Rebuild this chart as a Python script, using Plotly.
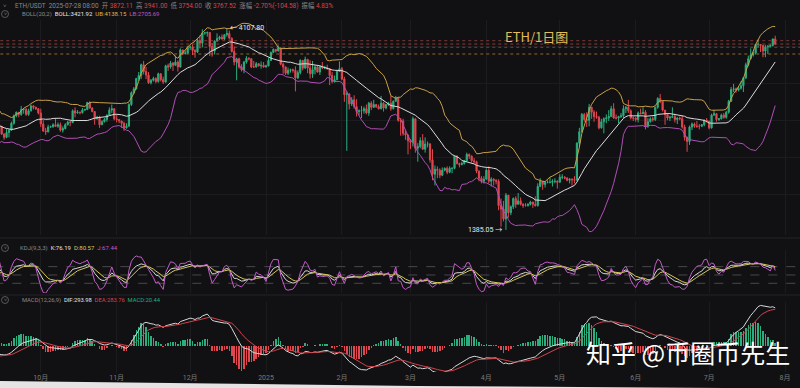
import numpy as np
import pandas as pd
import plotly.graph_objects as go

# ---------------- data (daily candles, close / high / low) ----------------
first_open = 3230.0  # close of 2024-07-31, open of the first candle

aug24 = [(2980,3250,2900),(2900,3080,2880),(2690,2970,2630),(2680,2790,2600),(2420,2700,2110),
         (2460,2560,2420),(2340,2550,2310),(2680,2720,2330),(2600,2710,2560),(2610,2650,2580),
         (2560,2720,2550),(2720,2740,2520),(2700,2740,2610),(2660,2780,2640),(2570,2680,2520),
         (2590,2640,2550),(2610,2630,2580),(2610,2690,2600),(2640,2650,2560),(2570,2690,2560),
         (2630,2640,2540),(2620,2660,2590),(2760,2800,2610),(2770,2820,2740),(2750,2790,2730),
         (2680,2760,2670),(2460,2700,2440),(2530,2560,2420),(2530,2600,2510),(2530,2540,2430),
         (2510,2530,2500)]
sep24 = [(2430,2520,2400),(2540,2560,2430),(2420,2550,2410),(2450,2490,2310),(2370,2460,2350),
         (2230,2410,2150),(2270,2310,2230),(2300,2320,2250),(2360,2380,2280),(2390,2400,2330),
         (2340,2390,2280),(2360,2380,2320),(2440,2460,2340),(2420,2440,2400),(2320,2420,2310),
         (2280,2330,2250),(2340,2390,2270),(2370,2380,2280),(2460,2480,2360),(2560,2580,2440),
         (2610,2620,2540),(2580,2610,2540),(2650,2700,2560),(2650,2670,2590),(2580,2670,2560),
         (2630,2660,2560),(2700,2720,2620),(2680,2710,2650),(2660,2690,2640),(2600,2670,2580)]
oct24 = [(2450,2660,2410),(2360,2500,2350),(2350,2400,2310),(2410,2440,2340),(2415,2430,2400),
         (2440,2460,2400),(2420,2520,2410),(2440,2470,2400),(2370,2470,2350),(2390,2420,2340),
         (2440,2460,2380),(2475,2490,2430),(2470,2490,2420),(2630,2650,2460),(2600,2680,2540),
         (2610,2640,2590),(2605,2620,2580),(2640,2670,2590),(2650,2660,2630),(2750,2760,2640),
         (2670,2770,2660),(2620,2680,2610),(2520,2620,2440),(2540,2560,2510),(2440,2560,2400),
         (2480,2500,2440),(2510,2530,2470),(2570,2580,2480),(2640,2680,2560),(2660,2720,2600),
         (2520,2670,2500)]
nov24 = [(2510,2580,2470),(2490,2510,2460),(2460,2490,2400),(2400,2480,2360),(2420,2460,2390),
         (2720,2740,2420),(2900,2920,2700),(2960,2990,2880),(3130,3140,2950),(3180,3240,3090),
         (3370,3390,3120),(3250,3440,3200),(3190,3330,3120),(3060,3240,3040),(3100,3120,3030),
         (3130,3160,3080),(3080,3150,3050),(3210,3230,3060),(3110,3220,3080),(3070,3160,3040),
         (3350,3370,3060),(3330,3390,3260),(3400,3440,3300),(3360,3420,3260),(3420,3540,3360),
         (3330,3450,3250),(3650,3680,3320),(3580,3650,3550),(3590,3640,3560),(3700,3730,3580)]
dec24 = [(3710,3740,3650),(3640,3760,3550),(3610,3670,3500),(3840,3890,3590),(3790,3950,3680),
         (4000,4080,3700),(4000,4020,3960),(4010,4030,3920),(3720,4010,3530),(3630,3790,3520),
         (3830,3840,3560),(3880,3990,3810),(3910,3940,3850),(3870,3970,3860),(3960,3970,3850),
         (3990,4107.8,3920),(3890,4050,3860),(3620,3900,3600),(3420,3720,3360),(3480,3500,3100),
         (3330,3500,3300),(3280,3380,3250),(3420,3440,3220),(3490,3530,3390),(3480,3510,3450),
         (3330,3490,3310),(3330,3440,3320),(3390,3420,3320),(3350,3400,3340),(3360,3430,3300),
         (3330,3420,3320)]
jan25 = [(3350,3370,3320),(3450,3500,3340),(3600,3620,3440),(3660,3680,3590),(3630,3670,3600),
         (3690,3740,3620),(3380,3700,3360),(3330,3410,3210),(3220,3340,3190),(3270,3320,3190),
         (3280,3300,3230),(3270,3300,3230),(3140,3340,2920),(3230,3270,3120),(3450,3470,3200),
         (3310,3450,3270),(3470,3520,3300),(3310,3450,3220),(3210,3450,3130),(3280,3440,3140),
         (3330,3360,3200),(3240,3350,3230),(3340,3350,3190),(3310,3420,3290),(3320,3350,3290),
         (3300,3370,3280),(3180,3260,3020),(3080,3240,3050),(3110,3180,3060),(3250,3280,3100),
         (3300,3430,3260)]
feb25 = [(3120,3330,3100),(2870,3160,2760),(2880,2920,2120),(2730,2890,2650),(2790,2830,2700),
         (2690,2860,2660),(2620,2800,2550),(2630,2650,2570),(2630,2700,2530),(2660,2690,2590),
         (2600,2720,2580),(2740,2760,2560),(2680,2770,2640),(2720,2790,2670),(2690,2730,2670),
         (2660,2720,2650),(2740,2850,2650),(2670,2760,2620),(2720,2730,2650),(2740,2760,2700),
         (2660,2850,2630),(2770,2780,2650),(2820,2850,2760),(2500,2830,2480),(2490,2530,2300),
         (2330,2520,2300),(2310,2370,2250),(2240,2300,2080)]
mar25 = [(2220,2260,2140),(2520,2550,2170),(2150,2520,2100),(2170,2210,2000),(2240,2280,2150),
         (2140,2320,2130),(2200,2280,2100),(2200,2230,2160),(2020,2210,1990),(1870,2140,1810),
         (1920,1960,1760),(1910,1950,1830),(1860,1930,1830),(1910,1940,1850),(1930,1940,1900),
         (1890,1950,1870),(1930,1950,1880),(1930,1940,1880),(2060,2070,1920),(1980,2070,1970),
         (1970,1990,1940),(1980,2000,1960),(2010,2020,1970),(2080,2100,2000),(2060,2090,2030),
         (2010,2070,1990),(2000,2040,1980),(1900,2010,1880),(1830,1910,1800),(1800,1850,1780),
         (1820,1850,1780)]
apr25 = [(1910,1930,1820),(1800,1950,1780),(1820,1840,1750),(1810,1830,1760),(1800,1820,1770),
         (1580,1820,1540),(1550,1640,1410),(1470,1620,1450),(1670,1690,1385.05),(1520,1670,1480),
         (1570,1580,1500),(1640,1650,1550),(1590,1660,1560),(1620,1690,1590),(1590,1650,1580),
         (1580,1600,1560),(1580,1600,1570),(1590,1600,1570),(1610,1620,1580),(1590,1610,1560),
         (1580,1660,1570),(1750,1780,1570),(1800,1830,1750),(1770,1800,1720),(1790,1800,1740),
         (1790,1810,1780),(1790,1840,1780),(1800,1820,1750),(1800,1830,1780),(1790,1810,1730)]
may25 = [(1840,1870,1790),(1840,1870,1820),(1830,1850,1820),(1810,1840,1800),(1820,1830,1780),
         (1815,1830,1760),(1810,1850,1780),(2210,2220,1810),(2350,2400,2160),(2580,2600,2340),
         (2510,2600,2480),(2500,2610,2410),(2680,2730,2420),(2610,2680,2520),(2550,2640,2480),
         (2540,2620,2520),(2400,2560,2380),(2480,2520,2390),(2520,2540,2330),(2530,2580,2460),
         (2550,2640,2490),(2660,2700,2550),(2530,2740,2520),(2530,2580,2510),(2550,2560,2460),
         (2560,2600,2530),(2660,2710,2530),(2680,2700,2600),(2630,2790,2600),(2530,2650,2510),
         (2530,2550,2490)]
jun25 = [(2510,2540,2480),(2600,2620,2470),(2590,2660,2580),(2610,2680,2590),(2420,2640,2380),
         (2480,2530,2400),(2520,2540,2470),(2510,2550,2480),(2680,2690,2490),(2810,2830,2660),
         (2770,2880,2740),(2640,2780,2620),(2580,2640,2440),(2530,2600,2500),(2540,2560,2490),
         (2550,2680,2530),(2510,2590,2470),(2530,2540,2450),(2520,2550,2500),(2410,2560,2390),
         (2280,2440,2240),(2230,2290,2110),(2410,2430,2190),(2450,2470,2370),(2420,2470,2400),
         (2420,2490,2400),(2420,2450,2380),(2440,2450,2410),(2500,2510,2420),(2490,2530,2470)]
jul25 = [(2400,2490,2380),(2570,2590,2390),(2590,2640,2560),(2510,2600,2480),(2520,2530,2490),
         (2570,2590,2510),(2540,2600,2520),(2610,2630,2520),(2770,2790,2590),(2950,2990,2760),
         (2960,3040,2910),(2940,2980,2900),(2970,3000,2920),(3010,3080,2950),(3140,3150,2910),
         (3370,3410,3120),(3480,3540,3340),(3550,3680,3480),(3590,3620,3520),(3760,3770,3560),
         (3760,3860,3700),(3740,3760,3610),(3630,3740,3510),(3710,3750,3510),(3720,3750,3570),
         (3740,3760,3710),(3872.11,3880,3720),(3767.52,3941,3754)]

months = [("2024-08-01", aug24), ("2024-09-01", sep24), ("2024-10-01", oct24), ("2024-11-01", nov24),
          ("2024-12-01", dec24), ("2025-01-01", jan25), ("2025-02-01", feb25), ("2025-03-01", mar25),
          ("2025-04-01", apr25), ("2025-05-01", may25), ("2025-06-01", jun25), ("2025-07-01", jul25)]

tick_dates = ["2024-10-01", "2024-11-01", "2024-12-01", "2025-01-01", "2025-02-01", "2025-03-01",
              "2025-04-01", "2025-05-01", "2025-06-01", "2025-07-01", "2025-08-01"]
tick_labels = ["10月", "11月", "12月", "2025", "2月", "3月", "4月", "5月", "6月", "7月", "8月"]

alert_levels = [3836, 3767.52, 3702, 3571]
alert_colors = ["#b5473f", "#c0504a", "#a8563e", "#c88a3c"]
price_grid = [1680, 2050, 2500, 3050, 3720]

high_mark = ("2024-12-16", 4107.80)
low_mark = ("2025-04-09", 1385.05)

# ---------------- build frame ----------------
rows = []
for start, days in months:
    d0 = pd.Timestamp(start)
    for i, (c, h, l) in enumerate(days):
        rows.append((d0 + pd.Timedelta(days=i), c, h, l))
df = pd.DataFrame(rows, columns=["date", "close", "high", "low"])
df["open"] = [first_open] + df["close"].tolist()[:-1]
df["high"] = df[["high", "open", "close"]].max(axis=1)
df["low"] = df[["low", "open", "close"]].min(axis=1)

c = df["close"]
mid = c.rolling(20).mean()
sd = c.rolling(20).std(ddof=0)
ub = mid + 2 * sd
lb = mid - 2 * sd

ema12 = c.ewm(span=12, adjust=False).mean()
ema26 = c.ewm(span=26, adjust=False).mean()
dif = ema12 - ema26
dea = dif.ewm(span=9, adjust=False).mean()
hist = 2 * (dif - dea)

low9 = df["low"].rolling(9, min_periods=1).min()
high9 = df["high"].rolling(9, min_periods=1).max()
rsv = (c - low9) / (high9 - low9) * 100
K, D = [], []
k = d = 50.0
for r in rsv:
    k = 2 / 3 * k + r / 3
    d = 2 / 3 * d + k / 3
    K.append(k)
    D.append(d)
K = np.array(K)
D = np.array(D)
J = 3 * K - 2 * D

view = df["date"] >= pd.Timestamp("2024-09-10")
dv = df[view]

# ---------------- styling ----------------
BG = "#111114"
GREEN = "#2bae7e"
RED = "#e0474f"
GRAY = "#8a8a8a"
GRID = "#1b1b20"
FONT = "Roboto, 'Noto Sans CJK SC', sans-serif"
H = 374.0  # plot-area height in px (388 - bottom margin)

def py(y):
    return 1 - y / H

fig = go.Figure()

fig.add_trace(go.Candlestick(
    x=dv["date"], open=dv["open"], high=dv["high"], low=dv["low"], close=dv["close"],
    increasing=dict(line=dict(color=GREEN, width=1), fillcolor=GREEN),
    decreasing=dict(line=dict(color=RED, width=1), fillcolor=RED),
    whiskerwidth=0, xaxis="x", yaxis="y", showlegend=False, hoverinfo="skip"))

x_end = pd.Timestamp("2025-08-08")
x_start = pd.Timestamp("2024-09-12")
for lvl, col in zip(alert_levels, alert_colors):
    fig.add_trace(go.Scatter(x=[x_start, x_end], y=[lvl, lvl], mode="lines", opacity=0.7,
                             line=dict(color=col, width=1, dash="dot"),
                             xaxis="x", yaxis="y", showlegend=False, hoverinfo="skip"))

for series, col in [(ub[view], "#c9a045"), (mid[view], "#dcdcdc"), (lb[view], "#b04fb5")]:
    fig.add_trace(go.Scatter(x=dv["date"], y=series, mode="lines", line=dict(color=col, width=1),
                             xaxis="x", yaxis="y", showlegend=False, hoverinfo="skip"))

# KDJ
for lvl in [20, 50, 80]:
    fig.add_trace(go.Scatter(x=[x_start, x_end], y=[lvl, lvl], mode="lines",
                             line=dict(color="#55555c", width=0.8, dash="dash"),
                             xaxis="x2", yaxis="y2", showlegend=False, hoverinfo="skip"))
for series, col in [(K[view.values], "#d8d8d8"), (D[view.values], "#d6c858"), (J[view.values], "#c45bc8")]:
    fig.add_trace(go.Scatter(x=dv["date"], y=series, mode="lines", line=dict(color=col, width=1),
                             xaxis="x2", yaxis="y2", showlegend=False, hoverinfo="skip"))

# MACD
hv = hist[view].values
hcol = [GREEN if v >= 0 else RED for v in hv]
fig.add_trace(go.Bar(x=dv["date"], y=hv, marker=dict(color=hcol, line=dict(width=0)),
                     width=0.62 * 86400000, xaxis="x3", yaxis="y3", showlegend=False, hoverinfo="skip"))
fig.add_trace(go.Scatter(x=dv["date"], y=dif[view], mode="lines", line=dict(color="#d8d8d8", width=1),
                         xaxis="x3", yaxis="y3", showlegend=False, hoverinfo="skip"))
fig.add_trace(go.Scatter(x=dv["date"], y=dea[view], mode="lines", line=dict(color="#d2434b", width=1),
                         xaxis="x3", yaxis="y3", showlegend=False, hoverinfo="skip"))

xr = ["2024-09-14 08:00", "2025-08-07 03:00"]
xcommon = dict(type="date", range=xr, tickvals=tick_dates, ticktext=tick_labels, showgrid=True,
               gridcolor=GRID, gridwidth=1, zeroline=False, showline=False, ticks="",
               rangeslider=dict(visible=False), fixedrange=True)

annotations = []

def txt(x, y, s, color, size=6.0, anchor="left", family=FONT):
    annotations.append(dict(x=x / 800, y=py(y), xref="paper", yref="paper", text=s, showarrow=False,
                            xanchor=anchor, yanchor="middle", font=dict(size=size, color=color, family=family)))

def span(s, col):
    return '<span style="color:%s">%s</span>' % (col, s)

GAP = "&nbsp;&nbsp;"
hdr_red = "#d9434c"
# header line 1: label / value pairs
line1 = [("ETH/USDT", GRAY), ("2025-07-28 08:00", GRAY), ("开 " + span("3872.11", hdr_red), GRAY),
         ("高 " + span("3941.00", hdr_red), GRAY), ("低 " + span("3754.00", hdr_red), GRAY),
         ("收 " + span("3767.52", hdr_red), GRAY), ("涨幅 " + span("-2.70%(-104.58)", hdr_red), GRAY),
         ("振幅 " + span("4.83%", hdr_red), GRAY)]
txt(13, 5, GAP.join(span(s, col) for s, col in line1), GRAY, size=6.4)

line2 = [("BOLL(20,2)", GRAY), ("BOLL:3421.92", "#e8e8e8"), ("UB:4138.15", "#e2b345"), ("LB:2705.69", "#c155c0")]
txt(20, 14, GAP.join(span(s, col) for s, col in line2), GRAY)

kdj_line = [("KDJ(9,3,3)", GRAY), ("K:76.19", "#e8e8e8"), ("D:80.57", "#d9c95a"), ("J:67.44", "#c45bc8")]
txt(18, 248, GAP.join(span(s, col) for s, col in kdj_line), GRAY)

macd_line = [("MACD(12,26,9)", GRAY), ("DIF:293.98", "#e8e8e8"), ("DEA:283.76", hdr_red), ("MACD:20.44", GREEN)]
txt(20, 300, GAP.join(span(s, col) for s, col in macd_line), GRAY, size=5.8)

# chevrons
txt(5, 5, "˅", "#777777", size=6, anchor="center")
shapes = []
for yy in [14, 248, 300]:
    shapes.append(dict(type="circle", xref="paper", yref="paper", x0=1.5 / 800, x1=8.5 / 800,
                       y0=py(yy + 3.5), y1=py(yy - 3.5), line=dict(color="#6a6a6a", width=0.8)))
    txt(5, yy, "˅", "#7a7a7a", size=5, anchor="center")

txt(503, 37, "ETH/1日图", "#e2bd5b", size=13, family="'Noto Sans CJK SC', sans-serif")
txt(792, 352, "知乎 @币圈币先生", "#ffffff", size=25, anchor="right", family="'Noto Sans CJK SC', sans-serif")

annotations.append(dict(x=high_mark[0], y=np.log10(high_mark[1]), xref="x", yref="y",
                        text="← %.2f" % high_mark[1], showarrow=False, xanchor="left", yanchor="middle",
                        xshift=1, font=dict(size=7, color="#e8e8e8", family=FONT)))
annotations.append(dict(x=low_mark[0], y=np.log10(low_mark[1]), xref="x", yref="y",
                        text="%.2f →" % low_mark[1], showarrow=False, xanchor="right", yanchor="middle",
                        xshift=-2, font=dict(size=7, color="#e8e8e8", family=FONT)))

# panel separators
for yy in [238, 295]:
    shapes.append(dict(type="line", xref="paper", yref="paper", x0=0, x1=1, y0=py(yy), y1=py(yy),
                       line=dict(color="#232328", width=1)))
# light sliver at the bottom edge of the photo
shapes.append(dict(type="path", xref="paper", yref="paper",
                   path="M 0,%f L 0.52,%f L 1,%f L 1,%f L 0,%f Z" % (py(381), py(386), py(388.5), py(390), py(390)),
                   fillcolor="#e4e4e4", line=dict(width=0)))

fig.update_layout(
    width=800, height=388, margin=dict(l=0, r=0, t=0, b=14),
    paper_bgcolor=BG, plot_bgcolor=BG, showlegend=False, hovermode=False,
    font=dict(family=FONT, color=GRAY, size=7),
    xaxis=dict(xcommon, anchor="y", domain=[0, 1], showticklabels=False),
    xaxis2=dict(xcommon, anchor="y2", domain=[0, 1], showticklabels=False, matches="x"),
    xaxis3=dict(xcommon, anchor="y3", domain=[0, 1], showticklabels=True, matches="x",
                tickfont=dict(size=7, color="#7a7a7a")),
    yaxis=dict(type="log", domain=[py(235), py(20)], range=[np.log10(1348), np.log10(4288)],
               tickvals=price_grid, showticklabels=False, showgrid=True, gridcolor=GRID,
               zeroline=False, fixedrange=True),
    yaxis2=dict(domain=[py(293), py(250)], range=[-15, 140], showticklabels=False, showgrid=False,
                zeroline=False, fixedrange=True),
    yaxis3=dict(domain=[py(372), py(302)], range=[-205, 340], showticklabels=False, showgrid=False,
                zeroline=False, fixedrange=True),
    annotations=annotations, shapes=shapes, bargap=0,
)

fig.write_html("out.html", config={"displayModeBar": False, "staticPlot": True})
